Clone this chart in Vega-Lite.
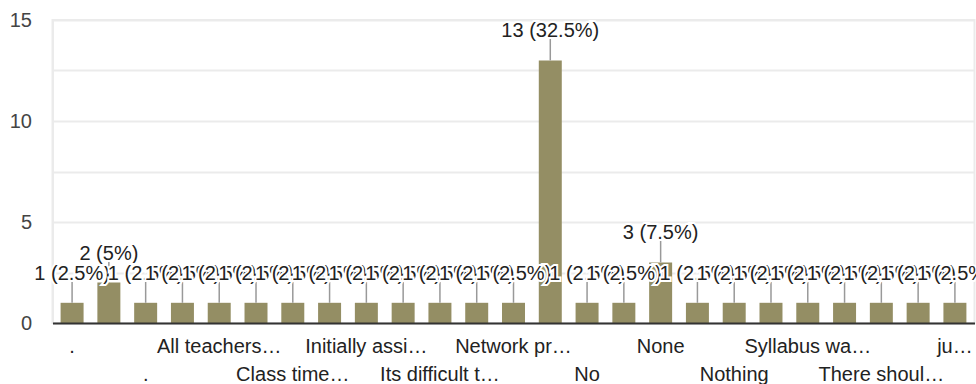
{
  "$schema": "https://vega.github.io/schema/vega-lite/v6.json",
  "autosize": {"type": "none"},
  "width": 922,
  "height": 303,
  "padding": {"left": 52.5, "top": 20, "right": 1.5, "bottom": 61},
  "background": "white",
  "config": {
    "font": "Liberation Sans",
    "view": {"stroke": "#ebebeb", "strokeWidth": 2}
  },
  "data": {
    "values": [
      {"answer": ".", "count": 1, "label": "1 (2.5%)"},
      {"answer": "..", "count": 2, "label": "2 (5%)"},
      {"answer": ". ", "count": 1, "label": "1 (2.5%)"},
      {"answer": "All good", "count": 1, "label": "1 (2.5%)"},
      {"answer": "All teachers are cooperative", "count": 1, "label": "1 (2.5%)"},
      {"answer": "Audio is not clear", "count": 1, "label": "1 (2.5%)"},
      {"answer": "Class time should be reduced", "count": 1, "label": "1 (2.5%)"},
      {"answer": "Improve interaction", "count": 1, "label": "1 (2.5%)"},
      {"answer": "Initially assignments were not clear", "count": 1, "label": "1 (2.5%)"},
      {"answer": "Internet issues", "count": 1, "label": "1 (2.5%)"},
      {"answer": "Its difficult to concentrate online", "count": 1, "label": "1 (2.5%)"},
      {"answer": "Lack of practical sessions", "count": 1, "label": "1 (2.5%)"},
      {"answer": "Network problem at home", "count": 1, "label": "1 (2.5%)"},
      {"answer": "Network problems", "count": 13, "label": "13 (32.5%)"},
      {"answer": "No", "count": 1, "label": "1 (2.5%)"},
      {"answer": "No comments", "count": 1, "label": "1 (2.5%)"},
      {"answer": "None", "count": 3, "label": "3 (7.5%)"},
      {"answer": "Not really", "count": 1, "label": "1 (2.5%)"},
      {"answer": "Nothing", "count": 1, "label": "1 (2.5%)"},
      {"answer": "Poor connectivity", "count": 1, "label": "1 (2.5%)"},
      {"answer": "Syllabus was not completed", "count": 1, "label": "1 (2.5%)"},
      {"answer": "Teachers are helpful", "count": 1, "label": "1 (2.5%)"},
      {"answer": "There should be more doubt sessions", "count": 1, "label": "1 (2.5%)"},
      {"answer": "Very good", "count": 1, "label": "1 (2.5%)"},
      {"answer": "just need more time", "count": 1, "label": "1 (2.5%)"}
    ]
  },
  "encoding": {
    "x": {
      "field": "answer",
      "type": "nominal",
      "sort": null,
      "title": null,
      "scale": {"paddingInner": 0.375, "paddingOuter": 0.22},
      "axis": {
        "labelAngle": 0,
        "ticks": false,
        "domainColor": "#333333",
        "domainWidth": 2,
        "labelFontSize": 20,
        "labelColor": "#222222",
        "labelPadding": 13,
        "labelBaseline": "top",
        "labelLineHeight": 28,
        "labelLimit": 400,
        "labelOverlap": false,
        "zindex": 1,
        "labelExpr": "({'.': '.', '. ': ['', '.'], 'All teachers are cooperative': 'All teachers…', 'Class time should be reduced': ['', 'Class time…'], 'Initially assignments were not clear': 'Initially assi…', 'Its difficult to concentrate online': ['', 'Its difficult t…'], 'Network problem at home': 'Network pr…', 'No': ['', 'No'], 'None': 'None', 'Nothing': ['', 'Nothing'], 'Syllabus was not completed': 'Syllabus wa…', 'There should be more doubt sessions': ['', 'There shoul…'], 'just need more time': 'ju…'})[datum.value] || ''"
      }
    },
    "y": {
      "field": "count",
      "type": "quantitative",
      "title": null,
      "scale": {"domain": [0, 15], "nice": false},
      "axis": {
        "values": [0, 2.5, 5, 7.5, 10, 12.5, 15],
        "labelExpr": "datum.value % 5 === 0 ? datum.label : ''",
        "ticks": false,
        "labelFontSize": 20,
        "labelColor": "#444444",
        "labelPadding": 21,
        "domainColor": "#ebebeb",
        "domainWidth": 2,
        "gridColor": "#ebebeb",
        "gridWidth": 2
      }
    }
  },
  "layer": [
    {"mark": {"type": "bar", "color": "#948e64"}},
    {
      "mark": {"type": "rule", "color": "#999999", "strokeWidth": 1.5, "y2Offset": -22},
      "encoding": {"y2": {"field": "count"}}
    },
    {
      "transform": [
        {"calculate": "['halo', 'text']", "as": "kind"},
        {"flatten": ["kind"]}
      ],
      "mark": {"type": "text", "fontSize": 20, "baseline": "alphabetic", "dy": -23, "stroke": "white"},
      "encoding": {
        "text": {"field": "label"},
        "fill": {"condition": {"test": "datum.kind === 'halo'", "value": "white"}, "value": "#222222"},
        "strokeWidth": {"condition": {"test": "datum.kind === 'halo'", "value": 4}, "value": 0}
      }
    }
  ]
}
